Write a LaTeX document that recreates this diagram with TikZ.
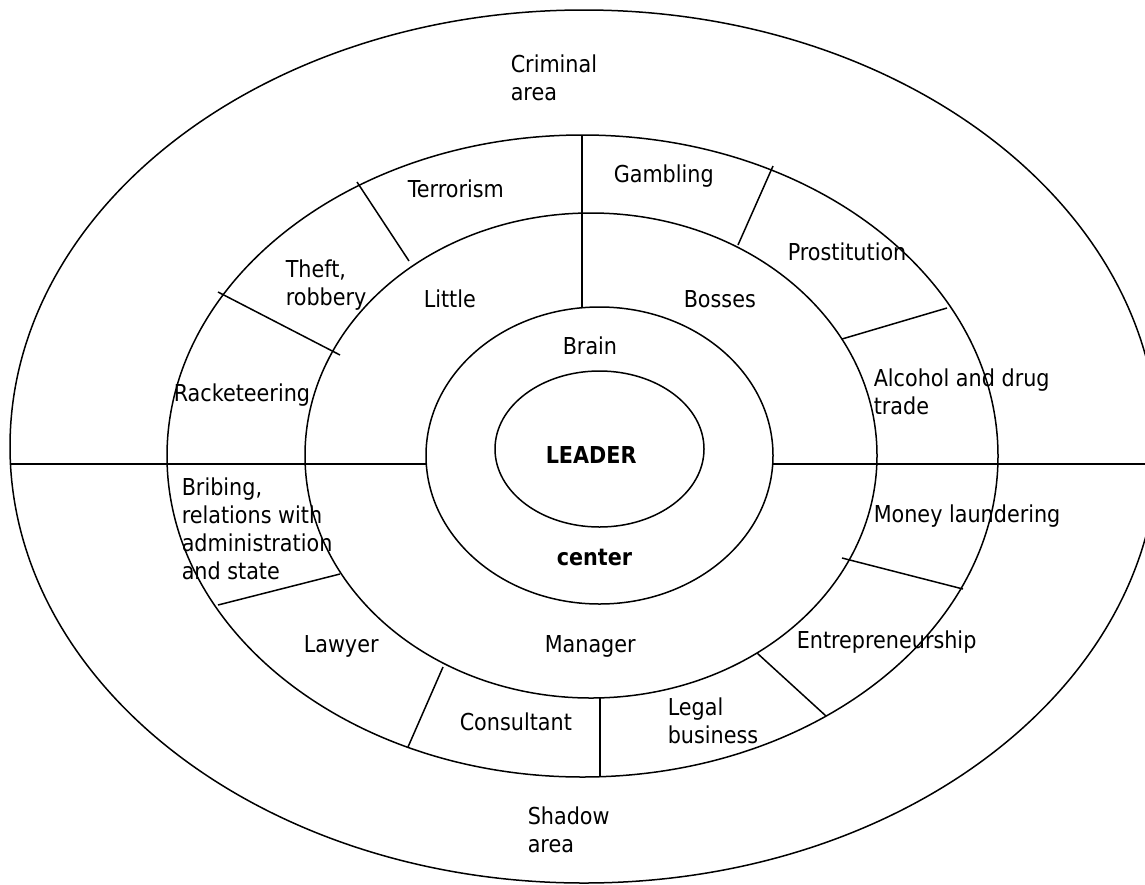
\documentclass[tikz,border=0pt]{standalone}
\usepackage{fontspec}
\setmainfont[FakeStretch=0.89]{DejaVu Sans}
\begin{document}
\begin{tikzpicture}[x=1pt,y=-1pt,line width=1.5pt,
        txt/.style={anchor=base west,inner sep=0pt,align=left,font=\fontsize{23.3}{28}\selectfont}]
    \useasboundingbox (0,0) rectangle (1145,884);

    \draw (584,446.5) ellipse [x radius=574,y radius=436.5];
    \draw (582.5,456) ellipse [x radius=415.5,y radius=321];
    \draw (591,455.5) ellipse [x radius=286,y radius=242.5];
    \draw (599.5,455.5) ellipse [x radius=173.5,y radius=148.5];
    \draw (599.5,449) ellipse [x radius=104.5,y radius=78];

    \draw (10,464) -- (427,464);
    \draw (773,464) -- (1158,464);
    \draw (582,135) -- (582,307);
    \draw (600,698) -- (600,777);

    \draw (357,182) -- (409,261);
    \draw (218,292) -- (340,355);
    \draw (773,166) -- (738,245);
    \draw (842,339) -- (947,308);
    \draw (842,558) -- (963,589);
    \draw (757,653) -- (826,716);
    \draw (443,667) -- (408,747);
    \draw (340,574) -- (218,605);

    \node[txt] (criminal) at (510,100) {Criminal\\area};
    \node[txt] (terror) at (407,197) {Terrorism};
    \node[txt] (gambling) at (613,182) {Gambling};
    \node[txt] (theft) at (285,305) {Theft,\\robbery};
    \node[txt] (little) at (423,307) {Little};
    \node[txt] (bosses) at (683,307) {Bosses};
    \node[txt] (prost) at (787,260) {Prostitution};
    \node[txt] (brain) at (562,354) {Brain};
    \node[txt] (racket) at (173,401) {Racketeering};
    \node[txt] (alcohol) at (873,414) {Alcohol and drug\\trade};
    \node[txt,font=\fontsize{23.3}{28}\selectfont\bfseries] (leader) at (545,463) {LEADER};
    \node[txt] (bribing) at (181,579) {Bribing,\\relations with\\administration\\and state};
    \node[txt] (money) at (873,522) {Money laundering};
    \node[txt,font=\fontsize{23.3}{28}\selectfont\bfseries] (center) at (556,565) {center};
    \node[txt] (lawyer) at (303,652) {Lawyer};
    \node[txt] (manager) at (544,652) {Manager};
    \node[txt] (entre) at (796,648) {Entrepreneurship};
    \node[txt] (consult) at (459,730) {Consultant};
    \node[txt] (legal) at (667,743) {Legal\\business};
    \node[txt] (shadow) at (527,852) {Shadow\\area};
\end{tikzpicture}
\end{document}
